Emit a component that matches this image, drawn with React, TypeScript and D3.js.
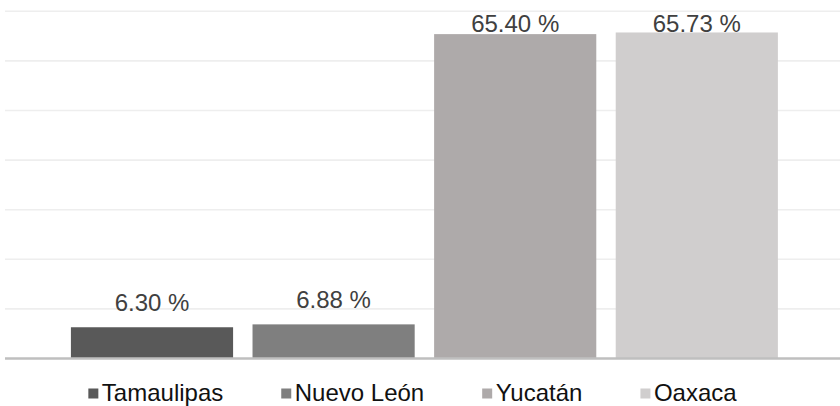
import React, { useEffect, useRef } from "react";
import * as d3 from "d3";

// Share (%) by state
const states = ["Tamaulipas", "Nuevo León", "Yucatán", "Oaxaca"];
const shares = [6.3, 6.88, 65.4, 65.73];
const barColors = ["#595959", "#7f7f7f", "#aeaaaa", "#d0cece"];
const gridTicks = [10, 20, 30, 40, 50, 60, 70];

const W = 840;
const H = 406;
const FONT = "'Liberation Sans', Arial, Helvetica, sans-serif";
const FONT_SIZE = 24;

export default function App() {
  const ref = useRef<SVGSVGElement>(null);

  useEffect(() => {
    const svg = d3.select(ref.current);
    svg.selectAll("*").remove();

    const x = d3
      .scaleBand<string>()
      .domain(states)
      .range([61.2, 787.6])
      .paddingInner(0.107)
      .paddingOuter(0.0535);
    const y = d3.scaleLinear().domain([0, 70]).range([358.5, 11.3]);

    const rows = states.map((s, i) => ({ state: s, value: shares[i], color: barColors[i] }));

    // horizontal gridlines
    svg
      .append("g")
      .selectAll("line")
      .data(gridTicks)
      .join("line")
      .attr("x1", 5)
      .attr("x2", W)
      .attr("y1", (d) => y(d))
      .attr("y2", (d) => y(d))
      .attr("stroke", "#eeeeee")
      .attr("stroke-width", 1.6);

    // bars
    svg
      .append("g")
      .selectAll("rect")
      .data(rows)
      .join("rect")
      .attr("x", (d) => x(d.state)!)
      .attr("width", x.bandwidth())
      .attr("y", (d) => y(d.value))
      .attr("height", (d) => y(0) - y(d.value))
      .attr("fill", (d) => d.color);

    // category axis line
    svg
      .append("line")
      .attr("x1", 5)
      .attr("x2", W)
      .attr("y1", y(0))
      .attr("y2", y(0))
      .attr("stroke", "#bfbfbf")
      .attr("stroke-width", 2.5);

    // value labels, kept inside the top of the plot
    svg
      .append("g")
      .selectAll("text")
      .data(rows)
      .join("text")
      .attr("x", (d) => x(d.state)! + x.bandwidth() / 2)
      .attr("y", (d) => Math.max(y(d.value) - 16.5, 31.5))
      .attr("text-anchor", "middle")
      .attr("font-family", FONT)
      .attr("font-size", FONT_SIZE)
      .attr("fill", "#404040")
      .text((d) => `${d.value.toFixed(2)} %`);

    // legend
    const legend = svg.append("g");
    const items = legend.selectAll("g").data(rows).join("g");
    items
      .append("rect")
      .attr("width", 10)
      .attr("height", 10)
      .attr("y", 388.5)
      .attr("fill", (d) => d.color);
    const labels = items
      .append("text")
      .attr("x", 13.5)
      .attr("y", 401)
      .attr("font-family", FONT)
      .attr("font-size", FONT_SIZE)
      .attr("fill", "#111111")
      .text((d) => d.state);

    const widths: number[] = [];
    labels.each(function () {
      widths.push((this as SVGTextElement).getComputedTextLength());
    });
    const gap = 58;
    const itemW = widths.map((w) => 13.5 + w);
    const total = d3.sum(itemW) + gap * (itemW.length - 1);
    let cx = 412.5 - total / 2;
    items.attr("transform", (_, i) => {
      const t = `translate(${cx},0)`;
      cx += itemW[i] + gap;
      return t;
    });
  }, []);

  return (
    <div style={{ position: "absolute", left: 0, top: 0 }}>
      <svg ref={ref} width={W} height={H} style={{ display: "block", background: "#ffffff" }} />
    </div>
  );
}
